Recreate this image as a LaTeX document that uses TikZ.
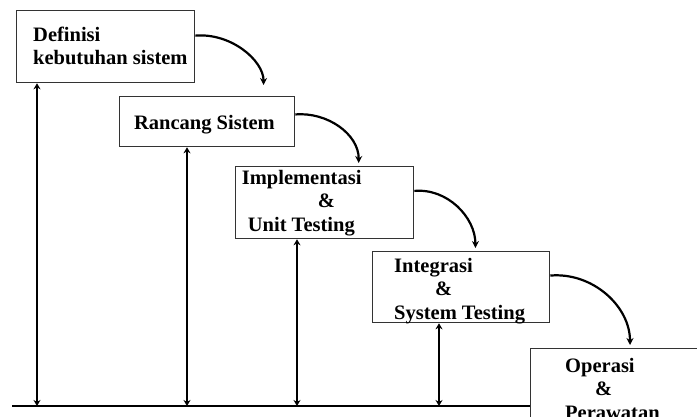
\documentclass[tikz,border=0pt]{standalone}
\usepackage{fontspec}
\setmainfont{Liberation Serif}
\usetikzlibrary{arrows.meta}
\usetikzlibrary{calc}

\begin{document}
\begin{tikzpicture}[x=1pt,y=-1pt,
	kotak/.style={draw=black!80, line width=1.3pt, fill=white, inner sep=0pt, anchor=north west},
	tulisan/.style={font=\fontsize{20.5}{23.5}\selectfont\bfseries, inner sep=0pt, align=left, anchor=north west},
	panah/.style={line width=2.2pt, -{Stealth[length=7pt,width=7pt]}},
	tegak/.style={line width=2pt, {Stealth[length=6pt,width=7pt]}-{Stealth[length=6pt,width=7pt]}},
	dasar/.style={line width=2.4pt}]
				\useasboundingbox (0,0) rectangle (697,417);
				% kotak tahapan
				\node[kotak, minimum width=178, minimum height=72] (definisi) at (16,10) {};
				\node[kotak, minimum width=175, minimum height=50] (rancang) at (119,96) {};
				\node[kotak, minimum width=178, minimum height=72] (implementasi) at (235,166) {};
				\node[kotak, minimum width=177, minimum height=71] (integrasi) at (372,251) {};
				\node[kotak, minimum width=200, minimum height=100] (operasi) at (530,348) {};
				% teks
				\node[tulisan] (definisi-teks) at (33,26.8) {Definisi\\kebutuhan sistem};
				\node[tulisan, anchor=base] (rancang-teks) at (204.5,130) {Rancang Sistem};
				\node[tulisan] (implementasi-teks) at (241.7,169.8) {Implementasi\\\hspace*{76pt}\&\\\hspace*{6pt}Unit Testing};
				\node[tulisan] (integrasi-teks) at (394,257.8) {Integrasi\\\hspace*{41pt}\&\\System Testing};
				\node[tulisan] (operasi-teks) at (565,357.8) {Operasi\\\hspace*{30pt}\&\\Perawatan};
				% panah lengkung
				\draw[panah, shorten >=11pt] ($(definisi.north east)!0.35!(definisi.south east)$) to[out=5,in=90] ($(rancang.north west)!0.82!(rancang.north east)$);
				\draw[panah, shorten >=3pt] ($(rancang.north east)!0.36!(rancang.south east)$) to[out=5,in=90] ($(implementasi.north west)!0.69!(implementasi.north east)$);
				\draw[panah, shorten >=3pt] ($(implementasi.north east)!0.34!(implementasi.south east)$) to[out=5,in=90] ($(integrasi.north west)!0.58!(integrasi.north east)$);
				\draw[panah, shorten >=3pt] ($(integrasi.north east)!0.34!(integrasi.south east)$) to[out=5,in=90] ($(operasi.north west)+(100,0)$);
				% garis dasar dan panah tegak
				\coordinate (garis) at (12,406);
				\draw[dasar] (garis) -- (garis -| operasi.west);
				\coordinate (v1) at (37,406);
				\coordinate (v2) at (187,406);
				\coordinate (v3) at (297,406);
				\coordinate (v4) at (439,406);
				\draw[tegak] (v1) -- (v1 |- definisi.south);
				\draw[tegak] (v2) -- (v2 |- rancang.south);
				\draw[tegak] (v3) -- (v3 |- implementasi.south);
				\draw[tegak] (v4) -- (v4 |- integrasi.south);
\end{tikzpicture}
\end{document}
